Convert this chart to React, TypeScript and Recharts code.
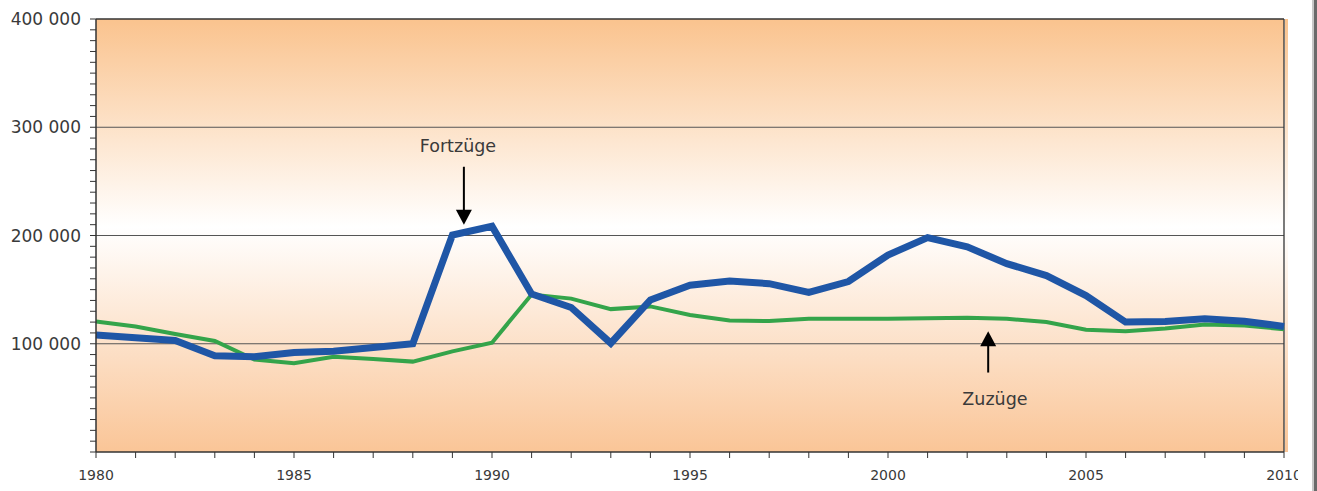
import React from 'react';
import {
  LineChart,
  Line,
  XAxis,
  YAxis,
  CartesianGrid,
  ReferenceLine,
  ReferenceDot,
} from 'recharts';

const years = [
  1980, 1981, 1982, 1983, 1984, 1985, 1986, 1987, 1988, 1989, 1990, 1991, 1992, 1993, 1994, 1995,
  1996, 1997, 1998, 1999, 2000, 2001, 2002, 2003, 2004, 2005, 2006, 2007, 2008, 2009, 2010,
];
const fortzuege = [
  108000, 105500, 103000, 89000, 88000, 92000, 93000, 96500, 100000, 200500, 208500, 146000,
  133500, 100500, 140500, 154000, 158000, 155500, 147500, 157500, 182000, 198000, 189500, 174000,
  163000, 144500, 120000, 120500, 123000, 120800, 116000,
];
const zuzuege = [
  120500, 116000, 109000, 102500, 85400, 82000, 88000, 86000, 83500, 93000, 101000, 145500, 141700,
  132000, 134500, 126500, 121400, 121000, 123000, 123000, 123000, 123500, 124000, 123000, 120000,
  113000, 111500, 114000, 117700, 116800, 113500,
];
const yTicks = [
  0, 10000, 20000, 30000, 40000, 50000, 60000, 70000, 80000, 90000, 100000, 110000, 120000, 130000,
  140000, 150000, 160000, 170000, 180000, 190000, 200000, 210000, 220000, 230000, 240000, 250000,
  260000, 270000, 280000, 290000, 300000, 310000, 320000, 330000, 340000, 350000, 360000, 370000,
  380000, 390000, 400000,
];
const gridValues = [100000, 200000, 300000];
const labeledYears = [1980, 1985, 1990, 1995, 2000, 2005, 2010];

const fortArrow = { x: 1989.29, yFrom: 263500, yTo: 210000, labelX: 1989.14, labelY: 277000, text: 'Fortzüge' };
const zuArrow = { x: 2002.53, yFrom: 73400, yTo: 111500, labelX: 2002.7, labelY: 43000, text: 'Zuzüge' };

const data = years.map((year, i) => ({ year, fort: fortzuege[i], zu: zuzuege[i] }));

const fmtY = (v: number) => (v > 0 && v % 100000 === 0 ? `${v / 1000} 000` : '');
const fmtX = (v: number) => (labeledYears.includes(v) ? String(v) : '');

const FONT = '"DejaVu Sans", "Open Sans", sans-serif';
const TXT = '#3a3a3a';

const ArrowHead = (dir: 'down' | 'up') => (props: any) => {
  const { cx, cy } = props;
  const h = 15;
  const w = 8;
  const pts =
    dir === 'down'
      ? `${cx - w},${cy - h} ${cx + w},${cy - h} ${cx},${cy}`
      : `${cx - w},${cy + h} ${cx + w},${cy + h} ${cx},${cy}`;
  return <polygon points={pts} fill="#000" />;
};

const Label = (text: string) => (props: any) => {
  const { cx, cy } = props;
  return (
    <text x={cx} y={cy} textAnchor="middle" fontSize={17.5} fontFamily={FONT} fill={TXT}>
      {text}
    </text>
  );
};

export default function App() {
  return (
    <div style={{ position: 'absolute', left: 0, top: 0, width: 1317, height: 491, background: '#fff', overflow: 'hidden' }}>
      <div
        style={{
          position: 'absolute',
          left: 1285,
          top: 19,
          width: 3,
          height: 433,
          background: 'linear-gradient(#fac38e, #ffffff 48%, #fac597)',
        }}
      />
      <LineChart width={1317} height={491} data={data} margin={{ top: 19, right: 33, left: 0, bottom: 0 }}>
        <defs>
          <linearGradient id="bg" x1="0" y1="0" x2="0" y2="1">
            <stop offset="0%" stopColor="#fac38e" />
            <stop offset="48%" stopColor="#ffffff" />
            <stop offset="100%" stopColor="#fac597" />
          </linearGradient>
        </defs>
        <CartesianGrid fill="url(#bg)" fillOpacity={1} horizontal={false} vertical={false} />
        {gridValues.map((v) => (
          <ReferenceLine key={v} y={v} stroke="#555" strokeWidth={1} />
        ))}
        <ReferenceLine y={400000} stroke="#333" strokeWidth={1.3} />
        <ReferenceLine x={2010} stroke="#333" strokeWidth={1.3} />
        <XAxis
          dataKey="year"
          type="number"
          domain={[1980, 2010]}
          ticks={years}
          interval={0}
          tickFormatter={fmtX}
          height={39}
          tickSize={6}
          tickMargin={12}
          axisLine={{ stroke: '#333', strokeWidth: 1.5 }}
          tickLine={{ stroke: '#333' }}
          tick={{ fontSize: 14, fontFamily: FONT, fill: TXT }}
        />
        <YAxis
          type="number"
          domain={[0, 400000]}
          ticks={yTicks}
          interval={0}
          tickFormatter={fmtY}
          width={96}
          tickSize={6}
          tickMargin={9}
          axisLine={{ stroke: '#333', strokeWidth: 1.5 }}
          tickLine={{ stroke: '#333' }}
          tick={{ fontSize: 17, fontFamily: FONT, fill: TXT }}
        />
        <Line
          type="linear"
          dataKey="zu"
          stroke="#34a44a"
          strokeWidth={4}
          dot={false}
          activeDot={false}
          isAnimationActive={false}
        />
        <Line
          type="linear"
          dataKey="fort"
          stroke="#1f56a6"
          strokeWidth={7}
          dot={false}
          activeDot={false}
          isAnimationActive={false}
        />
        <ReferenceLine
          segment={[
            { x: fortArrow.x, y: fortArrow.yFrom },
            { x: fortArrow.x, y: fortArrow.yTo + 10000 },
          ]}
          stroke="#000"
          strokeWidth={2}
        />
        <ReferenceDot x={fortArrow.x} y={fortArrow.yTo} shape={ArrowHead('down')} />
        <ReferenceLine
          segment={[
            { x: zuArrow.x, y: zuArrow.yFrom },
            { x: zuArrow.x, y: zuArrow.yTo - 10000 },
          ]}
          stroke="#000"
          strokeWidth={2}
        />
        <ReferenceDot x={zuArrow.x} y={zuArrow.yTo} shape={ArrowHead('up')} />
        <ReferenceDot x={fortArrow.labelX} y={fortArrow.labelY} shape={Label(fortArrow.text)} />
        <ReferenceDot x={zuArrow.labelX} y={zuArrow.labelY} shape={Label(zuArrow.text)} />
      </LineChart>
      <div style={{ position: 'absolute', left: 1298, top: 460, width: 14, height: 31, background: '#fff' }} />
      <div style={{ position: 'absolute', left: 1312, top: 0, width: 2, height: 491, background: '#c8c8c8' }} />
      <div style={{ position: 'absolute', left: 1314, top: 0, width: 3, height: 491, background: '#6a6a6a' }} />
    </div>
  );
}
